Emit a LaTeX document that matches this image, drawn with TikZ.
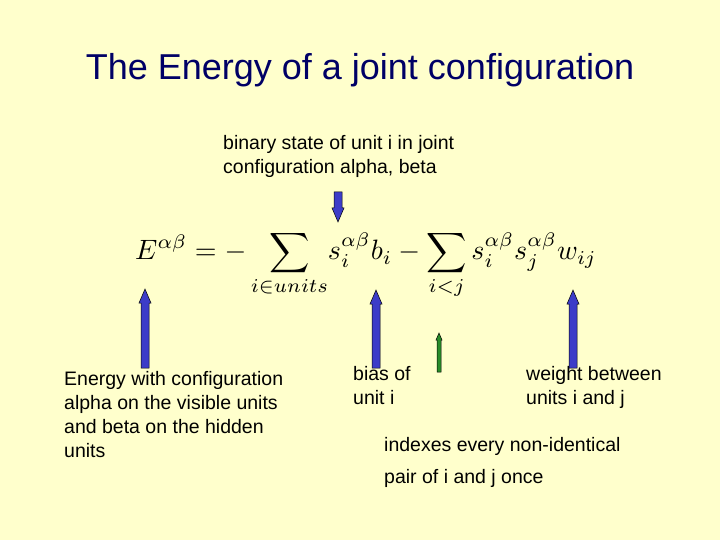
\documentclass[tikz,border=0pt]{standalone}
\usepackage{fontspec}
\setmainfont{Liberation Sans}
\usepackage{amsmath}
\usepackage{graphicx}
\definecolor{bg}{RGB}{255,255,204}
\definecolor{titlec}{RGB}{0,0,102}
\definecolor{arrblue}{RGB}{60,60,200}
\definecolor{arrgreen}{RGB}{40,140,40}
\tikzset{
  lbl/.style={anchor=north west,align=left,font=\fontsize{19.5}{24}\selectfont,inner sep=0pt},
}
\newcommand{\uparr}[5]{%
  \filldraw[fill=#4,draw=black,line width=0.5pt]
    (#1-#5*4,#3) -- (#1-#5*4,#2+#5*14) -- (#1-#5*6,#2+#5*14) -- (#1,#2)
    -- (#1+#5*6,#2+#5*14) -- (#1+#5*4,#2+#5*14) -- (#1+#5*4,#3) -- cycle;}
\begin{document}
\begin{tikzpicture}[x=1pt,y=-1pt]
\fill[bg] (0,0) rectangle (720,540);
\node[font=\fontsize{36}{40}\selectfont,text=titlec,anchor=base] (title) at (360,80) {The Energy of a joint configuration};
\node[lbl] (state) at (223,135) {binary state of unit i in joint\\configuration alpha, beta};
\node (eq) at (366,265) {\scalebox{2.8}{$\displaystyle E^{\alpha\beta} = -\sum_{i\in units}\! s_i^{\alpha\beta} b_i - \sum_{i<j} s_i^{\alpha\beta} s_j^{\alpha\beta} w_{ij}$}};
\node[lbl] (energy) at (64,371) {Energy with configuration\\alpha on the visible units\\and beta on the hidden\\units};
\node[lbl] (bias) at (353,366) {bias of\\unit i};
\node[lbl] (weight) at (526,366) {weight between\\units i and j};
\node[lbl,font=\fontsize{19.5}{32}\selectfont] (idx) at (384,437) {indexes every non-identical\\pair of i and j once};
\filldraw[fill=arrblue,draw=black,line width=0.5pt]
  (334,192) -- (334,208) -- (332,208) -- (338,222) -- (344,208) -- (342,208) -- (342,192) -- cycle;
\uparr{145}{289}{368}{arrblue}{1}
\uparr{376}{290}{368}{arrblue}{1}
\uparr{573}{290}{368}{arrblue}{1}
\uparr{439}{333}{372}{arrgreen}{0.5}
\end{tikzpicture}
\end{document}
